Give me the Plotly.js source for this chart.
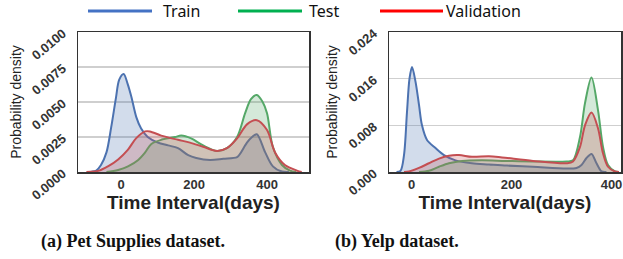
<!DOCTYPE html>
<html>
<head>
<meta charset="utf-8">
<script src="https://cdn.plot.ly/plotly-3.0.1.min.js"></script>
<style>
html,body{margin:0;padding:0;background:#fff;}
#chart{width:623px;height:259px;}
</style>
</head>
<body>
<div id="chart"></div>
<script>
// ---- Data ----
const seriesNames = ["Train", "Test", "Validation"];
const xTickVals = [0, 200, 400];
const xTitle = "Time Interval(days)";
const yTitle = "Probability density";
const captions = ["(a) Pet Supplies dataset.", "(b) Yelp dataset."];

// Pet Supplies
const petTrainX = [-90, -80, -68, -55, -40, -27, -14, -5, 7, 18, 28, 42, 55, 73, 101, 129, 156, 184, 206, 244, 280, 318, 326, 345, 359, 372, 395, 416, 441, 460];
const petTrainY = [0, 0.00002, 0.0001, 0.0005, 0.0014, 0.0032, 0.0053, 0.0066, 0.0070, 0.0063, 0.0054, 0.0039, 0.0031, 0.0025, 0.0021, 0.0019, 0.0017, 0.0012, 0.0010, 0.00086, 0.00095, 0.00107, 0.0013, 0.0021, 0.0025, 0.0027, 0.0014, 0.0004, 0.00003, 0];
const petTestX = [-40, -8, 19, 47, 66, 83, 110, 148, 165, 192, 225, 263, 290, 318, 340, 356, 372, 388, 400, 416, 441, 463, 480];
const petTestY = [0, 0.00014, 0.0004, 0.00086, 0.0014, 0.0020, 0.0023, 0.0025, 0.0026, 0.0024, 0.0019, 0.0015, 0.0017, 0.0025, 0.0042, 0.0052, 0.0055, 0.0050, 0.0042, 0.0018, 0.0005, 0.0001, 0];
const petValX = [-95, -60, -36, -8, 19, 41, 66, 79, 110, 156, 189, 225, 263, 290, 318, 345, 372, 400, 422, 449, 482, 495];
const petValY = [0, 0.0001, 0.0004, 0.0009, 0.0016, 0.0024, 0.0029, 0.0029, 0.0026, 0.0023, 0.0021, 0.0018, 0.0015, 0.0017, 0.0024, 0.0034, 0.0037, 0.0030, 0.0014, 0.0005, 0.0001, 0];
const petYTicks = [0, 0.0025, 0.005, 0.0075, 0.01];

// Yelp
const yelpTrainX = [-30, -22, -15, -9, -4, 1, 8, 15, 21, 31, 48, 65, 88, 121, 155, 191, 243, 310, 330, 340, 350, 360, 370, 380, 390];
const yelpTrainY = [0, 0.0002, 0.0029, 0.0103, 0.0160, 0.0180, 0.0155, 0.0115, 0.0080, 0.0055, 0.0041, 0.0029, 0.0020, 0.0015, 0.0013, 0.0011, 0.0009, 0.0006, 0.0007, 0.0012, 0.0024, 0.0031, 0.0015, 0.0001, 0];
const yelpTestX = [15, 35, 55, 75, 101, 141, 188, 243, 310, 323, 337, 347, 360, 373, 383, 393, 407, 415];
const yelpTestY = [0, 0.0002, 0.0009, 0.0015, 0.0019, 0.0020, 0.0019, 0.0018, 0.0018, 0.0020, 0.0060, 0.0118, 0.0162, 0.0106, 0.0043, 0.0012, 0.0001, 0];
const yelpValX = [-15, -5, 15, 35, 55, 75, 95, 121, 155, 181, 243, 310, 323, 337, 347, 360, 373, 383, 393, 407, 415];
const yelpValY = [0, 0.0001, 0.0007, 0.0015, 0.0023, 0.0028, 0.0029, 0.0026, 0.0027, 0.0025, 0.0019, 0.0015, 0.0018, 0.0043, 0.0080, 0.0102, 0.0075, 0.0032, 0.0009, 0.0001, 0];
const yelpYTicks = [0, 0.008, 0.016, 0.024];

// ---- Styles ----
const lineColors = ["#4C72B0", "#55A868", "#C44E52"];
const fillColors = ["rgba(76,114,176,0.25)", "rgba(85,168,104,0.25)", "rgba(196,78,82,0.25)"];
const legendColors = ["#4472C4", "#00B050", "#FF0000"];

function kde(x, y, i, xa, ya) {
  return {
    x: x, y: y, type: "scatter", mode: "lines", name: seriesNames[i],
    xaxis: xa, yaxis: ya, showlegend: false,
    line: {color: lineColors[i], width: 2, shape: "spline", smoothing: 0.9},
    fill: "tozeroy", fillcolor: fillColors[i], hoverinfo: "skip"
  };
}

const traces = [
  kde(petTrainX, petTrainY, 0, "x", "y"),
  kde(petTestX, petTestY, 1, "x", "y"),
  kde(petValX, petValY, 2, "x", "y"),
  kde(yelpTrainX, yelpTrainY, 0, "x2", "y2"),
  kde(yelpTestX, yelpTestY, 1, "x2", "y2"),
  kde(yelpValX, yelpValY, 2, "x2", "y2")
];

const W = 623, H = 259;
const px = v => v / W;
const py = v => 1 - v / H;

const tickFont = {family: "Liberation Sans, Arial, sans-serif", size: 13, color: "#333", weight: "bold"};
const yTickFont = {family: "Liberation Sans, Arial, sans-serif", size: 13, color: "#333", weight: "bold"};
const xTitleFont = {family: "Liberation Sans, Arial, sans-serif", size: 19, color: "#222", weight: "bold"};
const yTitleFont = {family: "Liberation Sans, Arial, sans-serif", size: 14, color: "#222"};

function xAxis(domain, range, anchor) {
  return {
    domain: domain, range: range, anchor: anchor,
    tickvals: xTickVals, ticks: "", tickfont: tickFont, ticklabelstandoff: 0,
    showgrid: false, zeroline: false,
    showline: true, mirror: true, linecolor: "#333", linewidth: 1.5,
    title: {text: xTitle, font: xTitleFont, standoff: 0},
    fixedrange: true
  };
}
function yAxis(range, tickvals, fmt, anchor) {
  return {
    domain: [1 - 172 / H, 1 - 32 / H], range: range, anchor: anchor,
    tickvals: tickvals, tickformat: fmt, tickangle: -40, ticks: "",
    tickfont: yTickFont, ticklabelstandoff: 11,
    showgrid: true, gridcolor: "#cfcfcf", gridwidth: 1.5, zeroline: false,
    showline: true, mirror: true, linecolor: "#333", linewidth: 1.5,
    title: {text: yTitle, font: yTitleFont, standoff: 4},
    fixedrange: true
  };
}

const legendLines = [[88, 152], [238, 302], [380, 443]];
const legendTextX = [161, 307, 444];
const shapes = legendLines.map((l, i) => ({
  type: "line", xref: "paper", yref: "paper",
  x0: px(l[0]), x1: px(l[1]), y0: py(11), y1: py(11),
  line: {color: legendColors[i], width: 3}
}));
const annotations = seriesNames.map((n, i) => ({
  text: n, xref: "paper", yref: "paper", x: px(legendTextX[i]), y: py(11),
  xanchor: "left", yanchor: "middle", showarrow: false,
  font: {family: "Noto Sans, sans-serif", size: 16, color: "#111"}
})).concat([
  {text: captions[0], xref: "paper", yref: "paper", x: px(133), y: py(241),
   xanchor: "center", yanchor: "middle", showarrow: false,
   font: {family: "Liberation Serif, serif", size: 18, color: "#111", weight: "bold"}},
  {text: captions[1], xref: "paper", yref: "paper", x: px(397), y: py(241),
   xanchor: "center", yanchor: "middle", showarrow: false,
   font: {family: "Liberation Serif, serif", size: 18, color: "#111", weight: "bold"}}
]);

const layout = {
  width: W, height: H,
  margin: {l: 0, r: 0, t: 0, b: 0},
  paper_bgcolor: "#fff", plot_bgcolor: "#fff",
  showlegend: false,
  xaxis: xAxis([px(78), px(309)], [-118, 515], "y"),
  yaxis: yAxis([0, 0.01], petYTicks, ".4f", "x"),
  xaxis2: xAxis([px(389), px(621)], [-45, 419], "y2"),
  yaxis2: yAxis([0, 0.024], yelpYTicks, ".3f", "x2"),
  shapes: shapes,
  annotations: annotations
};

Plotly.newPlot("chart", traces, layout, {displayModeBar: false, staticPlot: true});
</script>
</body>
</html>
